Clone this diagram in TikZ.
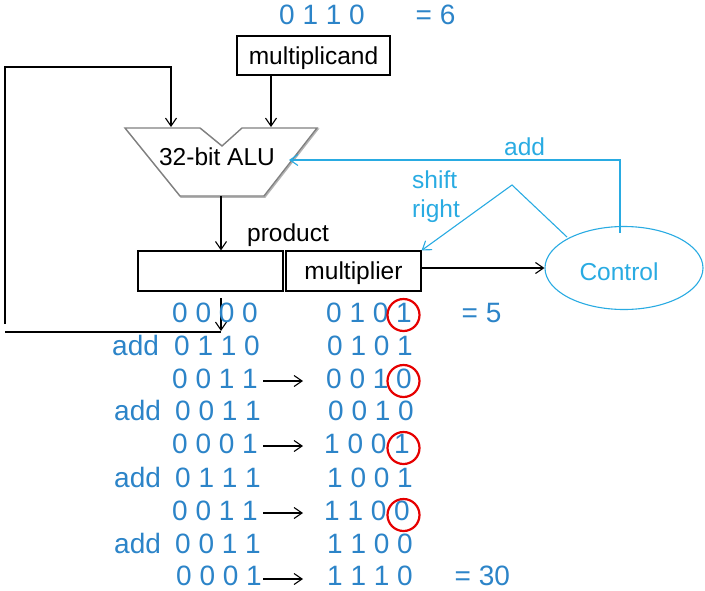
\documentclass[tikz,border=0pt]{standalone}
\usepackage{fontspec}
\setmainfont{Liberation Sans}
\usetikzlibrary{arrows.meta,shapes.geometric,calc}
\definecolor{numblue}{RGB}{44,132,200}
\definecolor{ctlblue}{RGB}{41,171,226}
\definecolor{alugray}{RGB}{128,128,128}
\definecolor{circred}{RGB}{230,0,0}
\begin{document}
\begin{tikzpicture}[x=1pt,y=-1pt,
  wire/.style={line width=1.1pt, black},
  arr/.style={-{Straight Barb[length=8pt,width=11pt]}},
  ctl/.style={line width=1.1pt, ctlblue},
  box/.style={draw, line width=1.1pt, inner sep=0, minimum height=39pt, text height=17.5pt, text depth=0pt, font=\fontsize{24.5}{28}\selectfont},
  num/.style={anchor=base west, inner sep=0, text=numblue, font=\fontsize{28}{32}\selectfont},
  lab/.style={anchor=base west, inner sep=0, font=\fontsize{24.5}{28}\selectfont},
  ctllab/.style={lab, text=ctlblue},
  ring/.style={draw=circred, line width=2.2pt, circle, minimum size=32pt, inner sep=0},
]
\useasboundingbox (0,0) rectangle (705,590);

% boxes
\node[box, minimum width=153pt] (mcand) at (313.5,55.5) {multiplicand};
\node[box, minimum width=145pt, minimum height=40pt] (prod) at (210.5,271) {};
\node[box, minimum width=135pt, minimum height=40pt] (mplier) at (353.5,271) {multiplier};
\node[lab] (prodlab) at (247,241) {product};

% ALU
\draw[alugray!60, line width=1.5pt, line join=miter, shift={(1pt,-1pt)}]
  (125,128) -- (200,128) -- (222,146) -- (242,128) -- (317,128) -- (264,196) -- (180,196) -- cycle;
\draw[alugray, line width=1.4pt, line join=miter, fill=white]
  (125,128) -- (200,128) -- (222,146) -- (242,128) -- (317,128) -- (264,196) -- (180,196) -- cycle;
\node[lab, anchor=base] (alu) at (217,165) {32-bit ALU};
\coordinate (aluA) at (171,127);
\coordinate (aluB) at (271,127);
\coordinate (aluOut) at (221,196);
\coordinate (aluR) at (289,160);

% Control
\node[draw=ctlblue, line width=1.1pt, ellipse, minimum width=158pt, minimum height=83pt, inner sep=0] (ctrl) at (624,268) {};
\node[ctllab, anchor=base] (ctrltxt) at (619,280) {Control};

% feedback wires
\coordinate (fbstart) at (5,324);
\coordinate (fbcorner) at (5,67);
\draw[wire,arr] (fbstart) -- (fbcorner) -| (aluA);
\draw[wire,arr] (mcand.south -| aluB) -- (aluB);
\draw[wire,arr] (aluOut) -- (prod.north -| aluOut);
\coordinate (dnA) at (221,298);
\coordinate (dnB) at (221,331);
\coordinate (dnC) at (221,332);
\coordinate (fbbot) at (5,332);
\draw[wire,arr] (dnA) -- (dnB);
\draw[wire] (dnC) -- (fbbot);
\draw[wire,arr] (mplier.east |- ctrl.west) -- (ctrl.west);

% control signals
\coordinate (addS) at (620,233);
\draw[ctl,arr] (addS) |- (aluR);
\coordinate (shS) at (567,237);
\coordinate (shM) at (512,185);
\draw[ctl,arr] (shS) -- (shM) -- (mplier.north east);
\node[ctllab] (addlab) at (504,155) {add};
\node[ctllab] (shlab) at (412,188) {shift};
\node[ctllab] (rtlab) at (412,217) {right};

% numbers
\node[num] (top1) at (279,24) {0 1 1 0};
\node[num] (top2) at (415.5,24) {= 6};

\node[num] (p1) at (172,322) {0 0 0 0};
\node[num] (m1) at (326,322) {0 1 0 1};
\node[num] (e1) at (461.5,322) {= 5};

\node[num] (a2) at (112,355) {add};
\node[num] (p2) at (174,355) {0 1 1 0};
\node[num] (m2) at (327,355) {0 1 0 1};

\node[num] (p3) at (172,388) {0 0 1 1};
\node[num] (m3) at (326,388) {0 0 1 0};

\node[num] (a4) at (114,420) {add};
\node[num] (p4) at (175,420) {0 0 1 1};
\node[num] (m4) at (328,420) {0 0 1 0};

\node[num] (p5) at (172,453) {0 0 0 1};
\node[num] (m5) at (324,453) {1 0 0 1};

\node[num] (a6) at (114,487) {add};
\node[num] (p6) at (175,487) {0 1 1 1};
\node[num] (m6) at (327,487) {1 0 0 1};

\node[num] (p7) at (172,520) {0 0 1 1};
\node[num] (m7) at (324,520) {1 1 0 0};

\node[num] (a8) at (114,553) {add};
\node[num] (p8) at (175,553) {0 0 1 1};
\node[num] (m8) at (327,553) {1 1 0 0};

\node[num] (p9) at (176,585) {0 0 0 1};
\node[num] (m9) at (327,585) {1 1 1 0};
\node[num] (e9) at (454.5,585) {= 30};

% shift arrows
\draw[wire,arr] ($(p3.base west)+(91,-7)$) -- ($(m3.base west)+(-23,-7)$);
\draw[wire,arr] ($(p5.base west)+(91,-7)$) -- ($(m5.base west)+(-21,-7)$);
\draw[wire,arr] ($(p7.base west)+(91,-7)$) -- ($(m7.base west)+(-21,-7)$);
\draw[wire,arr] ($(p9.base west)+(87,-6)$) -- ($(m9.base west)+(-24,-6)$);

% red circles
\node[ring] (c1) at (403.5,315) {};
\node[ring] (c3) at (403.5,381) {};
\node[ring] (c5) at (403.5,448) {};
\node[ring] (c7) at (403.5,515) {};
\end{tikzpicture}
\end{document}
